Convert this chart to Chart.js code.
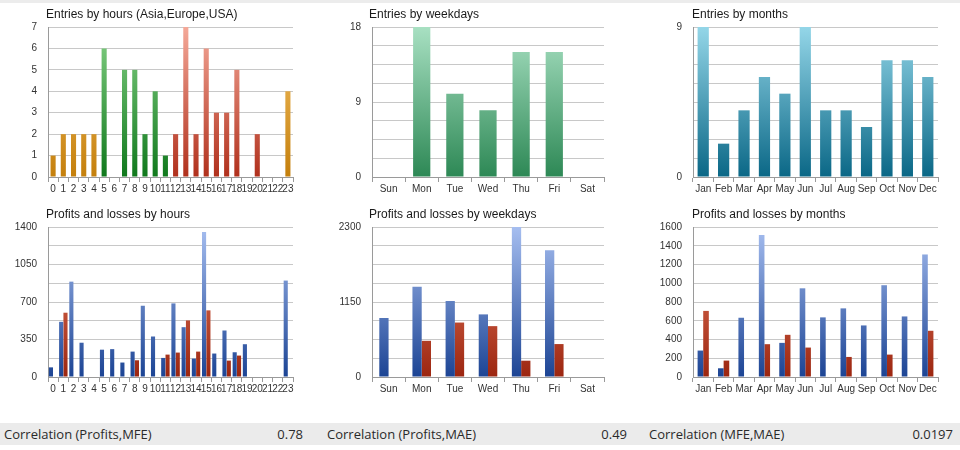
<!DOCTYPE html>
<html>
<head>
<meta charset="utf-8">
<script src="https://cdn.jsdelivr.net/npm/chart.js@4.4.0/dist/chart.umd.min.js"></script>
<style>
body{margin:0;width:960px;height:450px;background:#fff;overflow:hidden;position:relative;font-family:"Liberation Sans",Arial,sans-serif}
.box{position:absolute;width:320px;height:200px}
.ttl{position:absolute;top:7px;font-size:12px;color:#1a1a1a;white-space:nowrap;line-height:15px}
#topline{position:absolute;left:0;top:0;width:960px;height:3px;background:#ececec}
#corr{position:absolute;left:0;top:423px;width:960px;height:22px;background:#ebebeb;font-family:"Open Sans",sans-serif;font-size:13px;color:#2a2a2a;line-height:22px}
#corr span{position:absolute;top:0;white-space:nowrap}
</style>
</head>
<body>
<div id="topline"></div>
<div class="box" style="left:0;top:0"><canvas id="c1" width="320" height="200"></canvas><div class="ttl" id="t1"></div></div>
<div class="box" style="left:320px;top:0"><canvas id="c2" width="320" height="200"></canvas><div class="ttl" id="t2"></div></div>
<div class="box" style="left:640px;top:0"><canvas id="c3" width="320" height="200"></canvas><div class="ttl" id="t3"></div></div>
<div class="box" style="left:0;top:200px"><canvas id="c4" width="320" height="200"></canvas><div class="ttl" id="t4"></div></div>
<div class="box" style="left:320px;top:200px"><canvas id="c5" width="320" height="200"></canvas><div class="ttl" id="t5"></div></div>
<div class="box" style="left:640px;top:200px"><canvas id="c6" width="320" height="200"></canvas><div class="ttl" id="t6"></div></div>
<div id="corr"></div>
<script>
// chart data
var hours = ['0','1','2','3','4','5','6','7','8','9','10','11','12','13','14','15','16','17','18','19','20','21','22','23'];
var hourEntries = [1,2,2,2,2,6,0,5,5,2,4,1,2,7,2,6,3,3,5,0,2,0,0,4];
var hourSession = ['Asia','Asia','Asia','Asia','Asia','Europe','Europe','Europe','Europe','Europe','Europe','Europe',
                   'USA','USA','USA','USA','USA','USA','USA','USA','USA','Asia','Asia','Asia'];
var weekdays = ['Sun','Mon','Tue','Wed','Thu','Fri','Sat'];
var weekdayEntries = [0,18,10,8,15,15,0];
var months = ['Jan','Feb','Mar','Apr','May','Jun','Jul','Aug','Sep','Oct','Nov','Dec'];
var monthEntries = [9,2,4,6,5,9,4,4,3,7,7,6];

var hourProfits = [90,515,890,320,0,255,260,135,237,665,378,178,687,465,172,1353,219,434,231,306,0,0,0,900];
var hourLosses = [0,600,0,0,0,0,0,0,156,0,0,209,228,528,237,622,0,153,200,0,0,0,0,0];
var weekdayProfits = [905,1385,1165,960,2300,1945,0];
var weekdayLosses = [0,555,835,780,250,505,0];
var monthProfits = [282,93,632,1514,364,946,636,732,550,979,646,1307];
var monthLosses = [705,175,0,350,450,314,0,214,0,239,0,493];

var corrNames = ['Correlation (Profits,MFE)','Correlation (Profits,MAE)','Correlation (MFE,MAE)'];
var corrValues = ['0.78','0.49','0.0197'];

var palette = {
    Asia: ['#f7c468', '#c47f0c'],
    Europe: ['#86d286', '#0f781c'],
    USA: ['#f4a898', '#b0301c'],
    week: ['#a8e0c2', '#2d8855'],
    month: ['#94d6e8', '#0a6786'],
    profit: ['#a6bef0', '#1c4494'],
    loss: ['#ec8266', '#9c2610']
};

function grad(chart, cols) {
    var a = chart.chartArea;
    if (!a) return cols[1];
    var g = chart.ctx.createLinearGradient(0, a.top, 0, a.bottom);
    g.addColorStop(0, cols[0]);
    g.addColorStop(1, cols[1]);
    return g;
}

function makeChart(id, o) {
    var t = document.getElementById('t' + id.substring(1));
    t.textContent = o.title;
    t.style.left = o.titleX + 'px';

    new Chart(document.getElementById(id), {
        type: 'bar',
        data: {labels: o.labels, datasets: o.datasets},
        options: {
            responsive: false,
            animation: false,
            layout: {padding: {left: 0, right: 320 - o.right, top: 27, bottom: 0}},
            plugins: {
                legend: {display: false},
                tooltip: {enabled: false}
            },
            scales: {
                x: {
                    grid: {offset: true, drawOnChartArea: false, tickLength: 5, color: '#9a9a9a'},
                    border: {color: '#9a9a9a'},
                    ticks: {autoSkip: false, maxRotation: 0, minRotation: 0, padding: 1, color: '#333',
                            font: {size: 10, family: '"Liberation Sans", Arial'}},
                    afterFit: function (s) { s.height = 23; }
                },
                y: {
                    min: 0, max: o.max,
                    grid: {drawTicks: false, color: '#c8c8c8'},
                    border: {color: '#9a9a9a'},
                    ticks: {
                        stepSize: o.step, padding: 11, color: '#333',
                        font: {size: 10, family: '"Liberation Sans", Arial'},
                        callback: function (v) { return Math.abs(v % o.every) < 1e-6 ? v : ''; }
                    },
                    afterFit: function (s) { s.width = o.axisX; }
                }
            }
        }
    });
}

makeChart('c1', {
    title: 'Entries by hours (Asia,Europe,USA)', labels: hours, titleX: 46, axisX: 48, right: 293,
    max: 7, step: 1, every: 1,
    datasets: [{
        data: hourEntries, barPercentage: 0.5, categoryPercentage: 1,
        backgroundColor: function (ctx) { return grad(ctx.chart, palette[hourSession[ctx.dataIndex]] || palette.Asia); }
    }]
});
makeChart('c2', {
    title: 'Entries by weekdays', labels: weekdays, titleX: 49, axisX: 52, right: 284,
    max: 18, step: 2.25, every: 9,
    datasets: [{
        data: weekdayEntries, barPercentage: 0.52, categoryPercentage: 1,
        backgroundColor: function (ctx) { return grad(ctx.chart, palette.week); }
    }]
});
makeChart('c3', {
    title: 'Entries by months', labels: months, titleX: 52, axisX: 53, right: 298,
    max: 9, step: 1.125, every: 9,
    datasets: [{
        data: monthEntries, barPercentage: 0.55, categoryPercentage: 1,
        backgroundColor: function (ctx) { return grad(ctx.chart, palette.month); }
    }]
});
makeChart('c4', {
    title: 'Profits and losses by hours', labels: hours, titleX: 46, axisX: 48, right: 293,
    max: 1400, step: 175, every: 350,
    datasets: [
        {data: hourProfits, barPercentage: 0.95, categoryPercentage: 0.85,
         backgroundColor: function (ctx) { return grad(ctx.chart, palette.profit); }},
        {data: hourLosses, barPercentage: 0.95, categoryPercentage: 0.85,
         backgroundColor: function (ctx) { return grad(ctx.chart, palette.loss); }}
    ]
});
makeChart('c5', {
    title: 'Profits and losses by weekdays', labels: weekdays, titleX: 49, axisX: 52, right: 284,
    max: 2300, step: 287.5, every: 1150,
    datasets: [
        {data: weekdayProfits, barPercentage: 1, categoryPercentage: 0.56,
         backgroundColor: function (ctx) { return grad(ctx.chart, palette.profit); }},
        {data: weekdayLosses, barPercentage: 1, categoryPercentage: 0.56,
         backgroundColor: function (ctx) { return grad(ctx.chart, palette.loss); }}
    ]
});
makeChart('c6', {
    title: 'Profits and losses by months', labels: months, titleX: 52, axisX: 53, right: 298,
    max: 1600, step: 200, every: 200,
    datasets: [
        {data: monthProfits, barPercentage: 1, categoryPercentage: 0.55,
         backgroundColor: function (ctx) { return grad(ctx.chart, palette.profit); }},
        {data: monthLosses, barPercentage: 1, categoryPercentage: 0.55,
         backgroundColor: function (ctx) { return grad(ctx.chart, palette.loss); }}
    ]
});

// correlation strip
var labelLeft = [4, 327, 649];
var valueRight = [657, 333, 7];
var str = "";
for (var i = 0; i < corrNames.length; i++) {
    str += "<span style='left:" + labelLeft[i] + "px'>" + corrNames[i] + "</span>";
    str += "<span style='right:" + valueRight[i] + "px'>" + corrValues[i] + "</span>";
}
document.getElementById('corr').innerHTML = str;
</script>
</body>
</html>
